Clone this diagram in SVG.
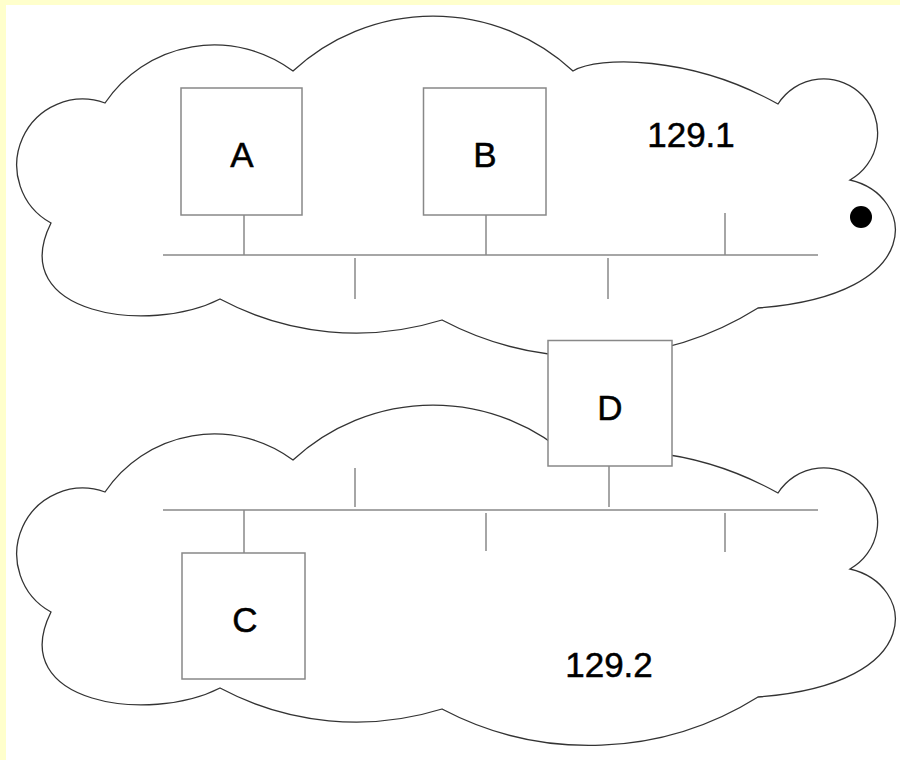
<svg xmlns="http://www.w3.org/2000/svg" xmlns:xlink="http://www.w3.org/1999/xlink" width="900" height="760" viewBox="0 0 900 760">
  <style>
    .cloud { fill: none; stroke: #333; stroke-width: 1.3; }
    .box { fill: #fff; stroke: #888; stroke-width: 1.5; }
    .wire { stroke: #888; stroke-width: 1.5; fill: none; }
    .label { font-family: "Liberation Sans", Arial, sans-serif; font-size: 35px; fill: #000; stroke: #000; stroke-width: 0.5; text-anchor: middle; }
  </style>
  <defs>
    <!-- network cloud outline, drawn clockwise from the upper-left notch -->
    <path id="cloudShape" class="cloud"
      d="M105,103
         A132,132 0 0 1 293,71
         A206,206 0 0 1 573,71
         C598,56 690,55 778,104
         A54,54 0 1 1 850,180
         C915,195 930,295 758,308
         A317,317 0 0 1 442,320
         A289,289 0 0 1 220,299
         C150,335 5,315 51,223
         A66,66 0 0 1 105,103 Z"/>
  </defs>

  <!-- page background -->
  <rect x="0" y="0" width="900" height="760" fill="#ffffcc"/>
  <rect x="6" y="5" width="894" height="755" fill="#ffffff"/>

  <!-- networks -->
  <g id="net-129-1">
    <use xlink:href="#cloudShape"/>
    <text class="label" x="691" y="147">129.1</text>
  </g>
  <g id="net-129-2">
    <use xlink:href="#cloudShape" transform="translate(0,389)"/>
    <text class="label" x="609" y="677">129.2</text>
  </g>

  <!-- LAN segments and drop cables -->
  <g id="connectors" class="wire">
    <line x1="163" y1="255" x2="818" y2="255"/>
    <line x1="244" y1="215" x2="244" y2="255"/>
    <line x1="486" y1="215" x2="486" y2="255"/>
    <line x1="725" y1="213" x2="725" y2="255"/>
    <line x1="355" y1="258" x2="355" y2="299"/>
    <line x1="608" y1="258" x2="608" y2="299"/>

    <line x1="163" y1="510" x2="818" y2="510"/>
    <line x1="355" y1="468" x2="355" y2="507"/>
    <line x1="609" y1="466" x2="609" y2="507"/>
    <line x1="244" y1="510" x2="244" y2="553"/>
    <line x1="486" y1="513" x2="486" y2="551"/>
    <line x1="725" y1="513" x2="725" y2="552"/>
  </g>

  <!-- hosts and router -->
  <g id="hostA">
    <rect class="box" x="181" y="88" width="121" height="127"/>
    <text class="label" x="242" y="167">A</text>
  </g>
  <g id="hostB">
    <rect class="box" x="423.5" y="88" width="122.5" height="127"/>
    <text class="label" x="485" y="167">B</text>
  </g>
  <g id="hostC">
    <rect class="box" x="182" y="553" width="123" height="126"/>
    <text class="label" x="245" y="632">C</text>
  </g>
  <g id="routerD">
    <rect class="box" x="548" y="340.5" width="124" height="125.5"/>
    <text class="label" x="610" y="420">D</text>
  </g>

  <!-- marker dot -->
  <circle id="dot" cx="861" cy="217" r="11" fill="#000"/>
</svg>
